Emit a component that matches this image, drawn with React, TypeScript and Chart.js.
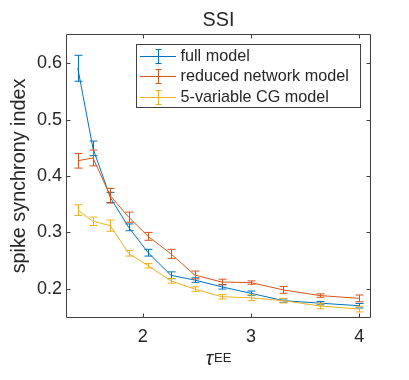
import React, { useEffect, useRef } from 'react';
import { Chart, registerables } from 'chart.js';

Chart.register(...registerables);

// ---- data ----
const tauEE = [1.4, 1.54, 1.7, 1.87, 2.05, 2.26, 2.48, 2.73, 3.0, 3.3, 3.64, 4.0];
const fullMean = [0.591, 0.449, 0.362, 0.309, 0.264, 0.224, 0.2155, 0.2035, 0.192, 0.179, 0.1745, 0.17];
const fullErr = [0.023, 0.013, 0.009, 0.006, 0.006, 0.006, 0.004, 0.004, 0.004, 0.003, 0.003, 0.004];
const reducedMean = [0.427, 0.432, 0.365, 0.327, 0.293, 0.262, 0.2245, 0.212, 0.211, 0.198, 0.188, 0.183];
const reducedErr = [0.013, 0.014, 0.013, 0.009, 0.007, 0.008, 0.007, 0.005, 0.003, 0.006, 0.003, 0.006];
const cgMean = [0.3395, 0.3197, 0.312, 0.263, 0.241, 0.214, 0.1995, 0.186, 0.184, 0.179, 0.1695, 0.164];
const cgErr = [0.0095, 0.0075, 0.01, 0.005, 0.004, 0.004, 0.004, 0.004, 0.005, 0.004, 0.005, 0.005];

const seriesLabels = ['full model', 'reduced network model', '5-variable CG model'];
const seriesColors = ['#0072BD', '#D95319', '#EDB120'];
const xTicks = [2, 3, 4];
const yTicks = [0.2, 0.3, 0.4, 0.5, 0.6];
const titleText = 'SSI';
const yLabelText = 'spike synchrony index';
const xLabelMain = 'τ';
const xLabelSup = 'EE';

const seriesMeans = [fullMean, reducedMean, cgMean];
const seriesErrs = [fullErr, reducedErr, cgErr];

const FONT = '"Liberation Sans", Arial, Helvetica, sans-serif';
const TEXT = '#262626';
const AXIS = '#404040';

export default function App() {
  const ref = useRef<HTMLCanvasElement>(null);

  useEffect(() => {
    const canvas = ref.current;
    if (!canvas) return;

    const decor = {
      id: 'matlabDecor',
      afterDatasetDraw(chart: any, args: any) {
        const i = args.index;
        const { ctx, scales } = chart;
        const xs = scales.x;
        const ys = scales.y;
        const m = seriesMeans[i];
        const e = seriesErrs[i];
        ctx.save();
        ctx.strokeStyle = seriesColors[i];
        ctx.lineWidth = 1;
        for (let j = 0; j < tauEE.length; j++) {
          const px = Math.round(xs.getPixelForValue(tauEE[j])) + 0.5;
          const y1 = ys.getPixelForValue(m[j] + e[j]);
          const y2 = ys.getPixelForValue(m[j] - e[j]);
          ctx.beginPath();
          ctx.moveTo(px, y1);
          ctx.lineTo(px, y2);
          ctx.moveTo(px - 4, y1);
          ctx.lineTo(px + 4, y1);
          ctx.moveTo(px - 4, y2);
          ctx.lineTo(px + 4, y2);
          ctx.stroke();
        }
        ctx.restore();
      },
      afterDatasetsDraw(chart: any) {
        const { ctx, chartArea: a, scales } = chart;
        const xs = scales.x;
        const ys = scales.y;
        ctx.save();
        // box
        ctx.strokeStyle = AXIS;
        ctx.lineWidth = 1;
        const L = Math.round(a.left) - 0.5;
        const R = Math.round(a.right) + 0.5;
        const T = Math.round(a.top) - 0.5;
        const B = Math.round(a.bottom) + 0.5;
        ctx.beginPath();
        ctx.rect(L, T, R - L, B - T);
        ctx.stroke();
        // inward ticks
        const tl = 4;
        ctx.beginPath();
        xTicks.forEach((v) => {
          const px = Math.round(xs.getPixelForValue(v)) + 0.5;
          ctx.moveTo(px, B);
          ctx.lineTo(px, B - tl);
          ctx.moveTo(px, T);
          ctx.lineTo(px, T + tl);
        });
        yTicks.forEach((v) => {
          const py = Math.round(ys.getPixelForValue(v)) + 0.5;
          ctx.moveTo(L, py);
          ctx.lineTo(L + tl, py);
          ctx.moveTo(R, py);
          ctx.lineTo(R - tl, py);
        });
        ctx.stroke();

        // legend
        const lx = 136.5, ly = 44.5, lw = 224, lh = 63;
        ctx.fillStyle = '#ffffff';
        ctx.fillRect(lx, ly, lw, lh);
        ctx.strokeStyle = AXIS;
        ctx.strokeRect(lx, ly, lw, lh);
        const rows = [55.5, 76, 96.5];
        ctx.font = `16.2px ${FONT}`;
        ctx.textBaseline = 'middle';
        ctx.textAlign = 'left';
        seriesLabels.forEach((lab, k) => {
          const ry = Math.round(rows[k]) + 0.5;
          ctx.strokeStyle = seriesColors[k];
          ctx.beginPath();
          ctx.moveTo(140, ry);
          ctx.lineTo(176, ry);
          ctx.moveTo(158.5, ry - 7);
          ctx.lineTo(158.5, ry + 7);
          ctx.moveTo(155.5, ry - 7);
          ctx.lineTo(161.5, ry - 7);
          ctx.moveTo(155.5, ry + 7);
          ctx.lineTo(161.5, ry + 7);
          ctx.stroke();
          ctx.fillStyle = TEXT;
          ctx.fillText(lab, 180.5, rows[k] + 1);
        });
        ctx.restore();
      },
      afterDraw(chart: any) {
        const { ctx, chartArea: a } = chart;
        const cx = (a.left + a.right) / 2;
        const cy = (a.top + a.bottom) / 2;
        ctx.save();
        ctx.fillStyle = TEXT;
        // title
        ctx.font = `19.8px ${FONT}`;
        ctx.textAlign = 'center';
        ctx.textBaseline = 'alphabetic';
        ctx.fillText(titleText, cx, 26);
        // y label
        ctx.save();
        ctx.translate(20, cy);
        ctx.rotate(-Math.PI / 2);
        ctx.textBaseline = 'middle';
        ctx.fillText(yLabelText, 0, 0);
        ctx.restore();
        // x label
        ctx.font = `italic 19.8px ${FONT}`;
        const w1 = ctx.measureText(xLabelMain).width;
        ctx.font = `13px ${FONT}`;
        const w2 = ctx.measureText(xLabelSup).width;
        const start = cx - (w1 + w2 + 1) / 2;
        ctx.textAlign = 'left';
        ctx.font = `italic 19.8px ${FONT}`;
        ctx.fillText(xLabelMain, start, 365);
        ctx.font = `13px ${FONT}`;
        ctx.fillText(xLabelSup, start + w1 + 1, 361.5);
        ctx.restore();
      },
    };

    const chart = new Chart(canvas, {
      type: 'line',
      data: {
        datasets: seriesLabels.map((lab, i) => ({
          label: lab,
          data: tauEE.map((x, j) => ({ x, y: seriesMeans[i][j] })),
          borderColor: seriesColors[i],
          backgroundColor: seriesColors[i],
          borderWidth: 1,
          pointRadius: 0,
          tension: 0,
          fill: false,
          order: 2 - i,
        })),
      },
      options: {
        responsive: false,
        animation: false,
        events: [],
        layout: { padding: { left: 0, top: 35, right: 39, bottom: 0 } },
        plugins: {
          legend: { display: false },
          title: { display: false },
          tooltip: { enabled: false },
        },
        scales: {
          x: {
            type: 'linear',
            min: 1.3,
            max: 4.1,
            afterBuildTicks: (s: any) => {
              s.ticks = xTicks.map((v) => ({ value: v }));
            },
            afterFit: (s: any) => {
              s.height = 63;
            },
            grid: { display: false, drawTicks: false },
            border: { display: false },
            ticks: {
              padding: 9,
              color: TEXT,
              font: { family: FONT, size: 18 },
              maxRotation: 0,
              autoSkip: false,
              callback: (v: any) => String(v),
            },
          },
          y: {
            type: 'linear',
            min: 0.15,
            max: 0.65,
            afterBuildTicks: (s: any) => {
              s.ticks = yTicks.map((v) => ({ value: v }));
            },
            afterFit: (s: any) => {
              s.width = 67;
            },
            grid: { display: false, drawTicks: false },
            border: { display: false },
            ticks: {
              padding: 5,
              color: TEXT,
              font: { family: FONT, size: 18 },
              autoSkip: false,
              callback: (v: any) => Number(v).toFixed(1),
            },
          },
        },
      },
      plugins: [decor],
    } as any);

    return () => chart.destroy();
  }, []);

  return (
    <div style={{ position: 'absolute', left: 0, top: 0, width: 409, height: 380, background: '#fff' }}>
      <canvas ref={ref} width={409} height={380} style={{ display: 'block', width: 409, height: 380 }} />
    </div>
  );
}
